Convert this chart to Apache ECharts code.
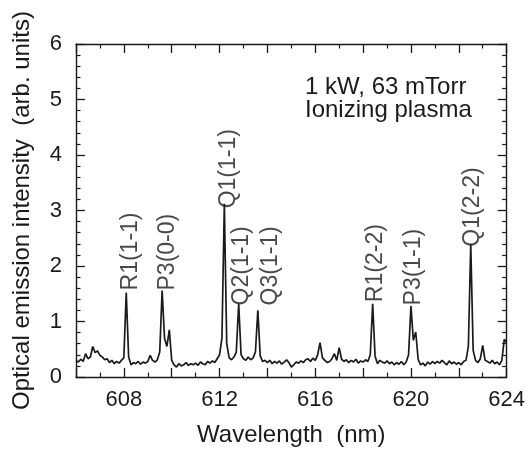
<!DOCTYPE html>
<html>
<head>
<meta charset="utf-8">
<script src="https://cdn.jsdelivr.net/npm/echarts@6/dist/echarts.min.js"></script>
<style>
  html, body { margin: 0; padding: 0; background: #fff; }
  #chart { width: 528px; height: 452px; }
</style>
</head>
<body>
<div id="chart"></div>
<script>
// Wavelength sampling grid (nm)
const wavelengths = [
  606.0,606.1,606.2,606.3,606.4,606.5,606.6,606.7,606.8,606.9,
  607.0,607.1,607.2,607.3,607.4,607.5,607.6,607.7,607.8,607.9,
  608.0,608.1,608.2,608.3,608.4,608.5,608.6,608.7,608.8,608.9,
  609.0,609.1,609.2,609.3,609.4,609.5,609.6,609.7,609.8,609.9,
  610.0,610.1,610.2,610.3,610.4,610.5,610.6,610.7,610.8,610.9,
  611.0,611.1,611.2,611.3,611.4,611.5,611.6,611.7,611.8,611.9,
  612.0,612.1,612.2,612.3,612.4,612.5,612.6,612.7,612.8,612.9,
  613.0,613.1,613.2,613.3,613.4,613.5,613.6,613.7,613.8,613.9,
  614.0,614.1,614.2,614.3,614.4,614.5,614.6,614.7,614.8,614.9,
  615.0,615.1,615.2,615.3,615.4,615.5,615.6,615.7,615.8,615.9,
  616.0,616.1,616.2,616.3,616.4,616.5,616.6,616.7,616.8,616.9,
  617.0,617.1,617.2,617.3,617.4,617.5,617.6,617.7,617.8,617.9,
  618.0,618.1,618.2,618.3,618.4,618.5,618.6,618.7,618.8,618.9,
  619.0,619.1,619.2,619.3,619.4,619.5,619.6,619.7,619.8,619.9,
  620.0,620.1,620.2,620.3,620.4,620.5,620.6,620.7,620.8,620.9,
  621.0,621.1,621.2,621.3,621.4,621.5,621.6,621.7,621.8,621.9,
  622.0,622.1,622.2,622.3,622.4,622.5,622.6,622.7,622.8,622.9,
  623.0,623.1,623.2,623.3,623.4,623.5,623.6,623.7,623.8,623.9,
  624.0
];

// Optical emission intensity (arb. units)
const intensity = [
  0.30,0.27,0.32,0.28,0.42,0.33,0.36,0.55,0.44,0.47,
  0.39,0.36,0.31,0.33,0.26,0.30,0.24,0.28,0.25,0.30,
  0.35,1.52,0.36,0.22,0.26,0.24,0.28,0.23,0.27,0.25,
  0.28,0.39,0.30,0.27,0.31,0.45,1.56,0.70,0.55,0.85,
  0.30,0.22,0.18,0.24,0.20,0.22,0.26,0.21,0.24,0.22,
  0.25,0.21,0.27,0.24,0.22,0.28,0.25,0.29,0.26,0.33,
  0.40,0.70,3.12,0.60,0.35,0.31,0.36,0.45,1.32,0.40,
  0.33,0.30,0.36,0.31,0.34,0.45,1.20,0.38,0.28,0.30,
  0.26,0.30,0.24,0.28,0.25,0.29,0.23,0.27,0.31,0.26,
  0.18,0.22,0.27,0.25,0.29,0.26,0.31,0.33,0.28,0.34,
  0.30,0.40,0.62,0.35,0.30,0.26,0.28,0.33,0.42,0.30,
  0.53,0.32,0.28,0.31,0.26,0.30,0.27,0.32,0.25,0.29,
  0.27,0.31,0.28,0.40,1.32,0.38,0.24,0.30,0.27,0.25,
  0.29,0.24,0.27,0.22,0.26,0.23,0.28,0.22,0.27,0.40,
  1.28,0.66,0.81,0.32,0.22,0.25,0.20,0.27,0.23,0.28,
  0.24,0.28,0.25,0.30,0.26,0.22,0.29,0.24,0.27,0.23,
  0.26,0.22,0.28,0.30,0.55,2.39,0.48,0.30,0.26,0.33,
  0.57,0.30,0.28,0.25,0.30,0.24,0.27,0.22,0.30,0.68,
  0.62
];

// Peak annotations: name, anchor wavelength, anchor intensity (bottom of the vertical text)
const peakNames = ['R1(1-1)', 'P3(0-0)', 'Q1(1-1)', 'Q2(1-1)', 'Q3(1-1)', 'R1(2-2)', 'P3(1-1)', 'Q1(2-2)'];
const peakLabelX = [608.28, 609.82, 612.38, 612.94, 614.14, 618.52, 620.10, 622.56];
const peakLabelY = [1.55, 1.55, 3.03, 1.28, 1.28, 1.34, 1.28, 2.34];

const xTicks = [608, 612, 616, 620, 624];
const yTicks = [0, 1, 2, 3, 4, 5, 6];

const annotationLines = ['1 kW, 63 mTorr', 'Ionizing plasma'];

const FONT = '"Liberation Sans", Arial, Helvetica, sans-serif';
const INK = '#1a1a1a';

const chart = echarts.init(document.getElementById('chart'), null, { renderer: 'canvas' });

const axisLineStyle = { lineStyle: { color: INK, width: 1.4 } };
const tickStyle = { inside: true, length: 9, lineStyle: { color: INK, width: 1.3 } };

function xAxisBase(pos) {
  return {
    type: 'value', position: pos, min: 606, max: 624, interval: 2,
    axisLine: Object.assign({ show: true, onZero: false }, axisLineStyle),
    axisTick: tickStyle,
    minorTick: { show: true, splitNumber: 2, length: 4.5, lineStyle: { color: INK, width: 1.2 } },
    splitLine: { show: false }, minorSplitLine: { show: false }
  };
}
function yAxisBase(pos) {
  return {
    type: 'value', position: pos, min: 0, max: 6, interval: 1,
    axisLine: Object.assign({ show: true, onZero: false }, axisLineStyle),
    axisTick: tickStyle,
    minorTick: { show: true, splitNumber: 5, length: 4.5, lineStyle: { color: INK, width: 1.2 } },
    splitLine: { show: false }, minorSplitLine: { show: false }
  };
}

const xBottom = xAxisBase('bottom');
xBottom.axisLabel = {
  show: true, margin: 12, color: INK, fontSize: 22, fontFamily: FONT,
  formatter: v => (xTicks.indexOf(Math.round(v)) >= 0 && Math.abs(v - Math.round(v)) < 1e-6) ? String(Math.round(v)) : ''
};
xBottom.name = 'Wavelength  (nm)';
xBottom.nameLocation = 'middle';
xBottom.nameGap = 46;
xBottom.nameTextStyle = { color: INK, fontSize: 24, fontFamily: FONT };

const xTop = xAxisBase('top');
xTop.axisLabel = { show: false };

const yLeft = yAxisBase('left');
yLeft.axisLabel = {
  show: true, margin: 14, color: INK, fontSize: 22, fontFamily: FONT,
  formatter: v => (yTicks.indexOf(v) >= 0 ? String(v) : '')
};
yLeft.name = 'Optical emission intensity  (arb. units)';
yLeft.nameLocation = 'middle';
yLeft.nameRotate = 90;
yLeft.nameGap = 42;
yLeft.nameTextStyle = { color: INK, fontSize: 24, fontFamily: FONT };

const yRight = yAxisBase('right');
yRight.axisLabel = { show: false };

const lineData = wavelengths.map((w, i) => [w, intensity[i]]);
const labelData = peakNames.map((n, i) => ({ name: n, value: [peakLabelX[i], peakLabelY[i]] }));

chart.setOption({
  animation: false,
  backgroundColor: '#fff',
  grid: { left: 76, right: 21, top: 44, bottom: 68, containLabel: false },
  xAxis: [xBottom, xTop],
  yAxis: [yLeft, yRight],
  graphic: [{
    type: 'text', left: 389 - 84, top: 75, silent: true,
    style: {
      text: annotationLines.join('\n'), x: 0, y: 0, width: 168,
      align: 'center', fill: INK, font: '24px ' + FONT, lineHeight: 23
    }
  }],
  series: [
    {
      type: 'line', xAxisIndex: 0, yAxisIndex: 0, data: lineData,
      showSymbol: false, symbol: 'none', smooth: false,
      lineStyle: { color: INK, width: 1.7 }, z: 3, silent: true
    },
    {
      type: 'scatter', xAxisIndex: 0, yAxisIndex: 0, data: labelData,
      symbolSize: 1, itemStyle: { color: 'rgba(0,0,0,0)' }, silent: true, z: 4,
      label: {
        show: true, formatter: '{b}', position: 'top', distance: 0,
        rotate: 90, align: 'left', verticalAlign: 'middle',
        color: INK, fontSize: 23, fontFamily: FONT
      }
    }
  ]
});
</script>
</body>
</html>
